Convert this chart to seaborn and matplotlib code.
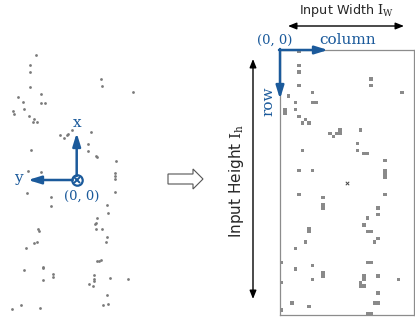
import numpy as np
import pandas as pd
import seaborn as sns
import matplotlib.pyplot as plt
from matplotlib.colors import ListedColormap
from matplotlib.patches import FancyArrow

# point cloud (left), read in picture pixels
cloud_px = [35.7, 30, 30, 30, 41.3, 18.3, 23.3, 41.3, 45.3, 13.3, 14.3, 24.3, 29, 34.3, 32.7, 37,
            101.3, 102.3, 132.7, 60, 64.3, 66.7, 68.3, 71.7, 91.3, 88, 88, 95.7, 97.3, 30.7, 116,
            27.7, 41.3, 115, 115, 115, 26.7, 115, 50.7, 50.7, 106.7, 107.7, 97.3, 95.7, 94.7, 96.3,
            102.3, 38, 39.3, 106.7, 106, 36.7, 34, 25.7, 96.7, 98.7, 101, 42.7, 43.3, 24.3, 52.7,
            52.7, 43.3, 94.3, 94.3, 94.3, 110, 128.3, 89, 92.7, 107.3, 20.7, 12, 40, 103.3, 108.3]
cloud_py = [55, 65, 71.7, 87.3, 94, 97.3, 101.7, 103.3, 103.3, 111, 114, 109, 116.3, 119.3, 122, 122,
            79.3, 86, 92.3, 134.7, 137.7, 135, 134, 130, 131.7, 144, 151.3, 155.7, 156.7, 150, 160.7,
            171.3, 172, 173.3, 176, 178.7, 193.3, 192, 197, 205.7, 205.3, 212.7, 217.7, 222.7, 224, 229.3,
            229.3, 229.3, 231, 237.3, 242.3, 241.7, 243, 248.3, 261.3, 261, 260.3, 267, 268.3, 270, 274,
            276.7, 280, 275.3, 279.3, 280.7, 278.3, 279.3, 284.3, 285.7, 295, 305.3, 309.3, 308, 305.3, 304.3]

# occupied cells of the range image (right)
n_rows, n_cols = 78, 39
cell_rows = [0, 4, 6, 10, 12, 13, 15, 15, 15, 17, 18, 17, 19, 8, 10, 12,
             21, 20, 21, 24, 25, 24, 23, 24, 23, 27, 29, 30, 30, 29, 32, 35, 36, 37, 35, 35,
             42, 43, 45, 46, 42, 46, 48, 49, 51, 53, 53, 52, 53, 56, 58, 56, 55,
             62, 64, 63, 67, 65, 66, 62, 62, 66, 67, 68, 69, 69, 66, 67, 68, 71, 74, 74, 74, 75, 76, 77, 77]
cell_cols = [5, 5, 5, 5, 9, 2, 4, 9, 10, 1, 1, 4, 5, 26, 26, 35,
             6, 7, 8, 14, 15, 16, 17, 17, 23, 22, 22, 24, 25, 6, 30, 30, 30, 30, 5, 9,
             5, 12, 12, 12, 30, 28, 28, 25, 24, 25, 26, 8, 8, 7, 4, 27, 28,
             0, 4, 9, 9, 12, 12, 25, 26, 24, 24, 23, 23, 24, 28, 34, 0, 28, 27, 28, 3, 8, 0, 25, 26]

blue = '#1b5a9b'

sns.set_style('white')
plt.rcParams['mathtext.fontset'] = 'dejavuserif'
fig = plt.figure(figsize=(4.15, 3.22), dpi=100)

# range image
grid = np.zeros((n_rows, n_cols))
grid[cell_rows, cell_cols] = 1
W, H = 415, 322
gx0, gy0, gx1, gy1 = 280, 50, 414, 315
gax = fig.add_axes([gx0 / W, 1 - gy1 / H, (gx1 - gx0) / W, (gy1 - gy0) / H])
sns.heatmap(pd.DataFrame(grid), ax=gax, cmap=ListedColormap(['white', '#8a8a8a']),
            cbar=False, xticklabels=False, yticklabels=False, square=False)
gax.scatter([n_cols / 2], [n_rows / 2], marker='x', s=6, color='#444444', lw=0.7)
for sp in gax.spines.values():
    sp.set_visible(True)
    sp.set_color('#8c8c8c')
    sp.set_linewidth(0.9)

# overlay in picture pixels
ax = fig.add_axes([0, 0, 1, 1])
ax.set_xlim(0, W)
ax.set_ylim(H, 0)
ax.set_facecolor('none')
ax.axis('off')

sns.scatterplot(x=cloud_px, y=cloud_py, ax=ax, color='#7a7a7a', s=4, linewidth=0, legend=False)

# lidar frame
ox, oy = 76.7, 180
arr = dict(arrowstyle='-|>,head_length=0.55,head_width=0.17', color=blue, lw=1.8,
           shrinkA=0, shrinkB=0, mutation_scale=14)
ax.annotate('', xy=(ox, 133), xytext=(ox, oy - 4), arrowprops=arr)
ax.annotate('', xy=(28, oy), xytext=(ox - 4, oy), arrowprops=arr)
ax.plot([ox], [oy], 'o', ms=7.5, mfc='white', mec=blue, mew=1.6)
ax.plot([ox], [oy], 'x', ms=4.5, color=blue, mew=1.4)
serif = dict(family='DejaVu Serif', color=blue)
ax.text(ox, 123, 'x', ha='center', va='center', fontsize=11, **serif)
ax.text(18, oy - 2, 'y', ha='center', va='center', fontsize=11, **serif)
ax.text(82, 196, '(0, 0)', ha='center', va='center', fontsize=9.5, **serif)

# transform arrow
ax.add_patch(FancyArrow(168, 179, 35, 0, width=10, head_width=20, head_length=10,
                        length_includes_head=True, fc='white', ec='#555555', lw=0.8))

# image axes
ax.annotate('', xy=(328, gy0), xytext=(gx0 - 1, gy0), arrowprops=arr)
ax.annotate('', xy=(gx0, 99), xytext=(gx0, gy0 - 1), arrowprops=arr)
ax.text(275, 40, '(0, 0)', ha='center', va='center', fontsize=9.5, **serif)
ax.text(348, 40, 'column', ha='center', va='center', fontsize=11, **serif)
ax.text(268, 101, 'row', ha='center', va='center', fontsize=11, rotation=90, **serif)

dbl = dict(arrowstyle='<|-|>,head_length=0.5,head_width=0.2', color='black', lw=1,
           shrinkA=0, shrinkB=0, mutation_scale=10)
ax.annotate('', xy=(288, 26), xytext=(404, 26), arrowprops=dbl)
ax.annotate('', xy=(253, 59), xytext=(253, 299), arrowprops=dbl)
ax.text(346, 10, r'Input Width $\mathrm{I_W}$', ha='center', va='center', fontsize=9.2,
        family='DejaVu Sans')
ax.text(236, 181, r'Input Height $\mathrm{I_h}$', ha='center', va='center', fontsize=11,
        rotation=90, family='DejaVu Sans')

fig.savefig('out.png', dpi=100)
